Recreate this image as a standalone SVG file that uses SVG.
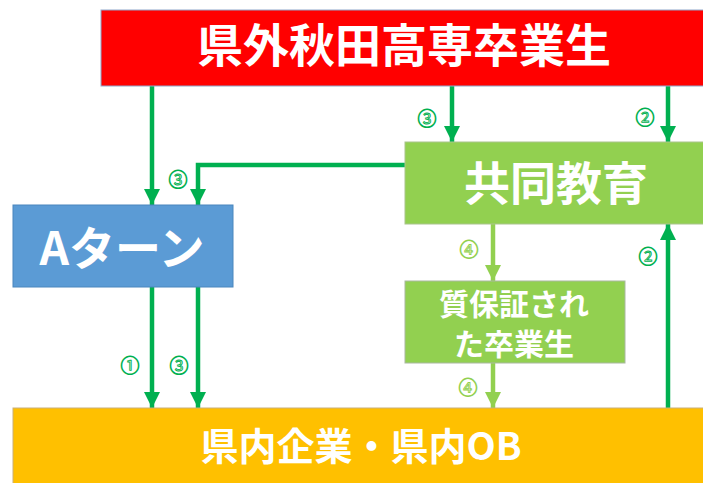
<svg xmlns="http://www.w3.org/2000/svg" width="703" height="483" viewBox="0 0 703 483">
<defs>
<style>
.box-text{font-family:"Noto Sans CJK JP","Noto Sans",sans-serif;font-weight:bold;fill:#ffffff;text-anchor:middle;dominant-baseline:central}
.lbl{font-family:"Noto Sans CJK JP","Noto Sans",sans-serif;font-size:19px;fill:#ffffff;stroke-width:0.9;text-anchor:middle;dominant-baseline:central}
.dk{stroke:#00b050}
.lt{stroke:#92d050}
.conn{fill:none;stroke-width:4.5}
</style>
<marker id="ahd" markerUnits="userSpaceOnUse" markerWidth="18" markerHeight="16" refX="16" refY="8" orient="auto">
<path d="M0,0 L16,8 L0,16 Z" fill="#00b050"/>
</marker>
<marker id="ahl" markerUnits="userSpaceOnUse" markerWidth="18" markerHeight="16" refX="16" refY="8" orient="auto">
<path d="M0,0 L16,8 L0,16 Z" fill="#92d050"/>
</marker>
</defs>
<rect width="703" height="483" fill="#ffffff"/>
<g id="connectors">
<path class="conn dk" d="M152,86 V205" marker-end="url(#ahd)"/>
<path class="conn dk" d="M405,165 H198 V205" marker-end="url(#ahd)"/>
<path class="conn dk" d="M452,86 V142" marker-end="url(#ahd)"/>
<path class="conn dk" d="M668,86 V142" marker-end="url(#ahd)"/>
<path class="conn dk" d="M152,287 V408" marker-end="url(#ahd)"/>
<path class="conn dk" d="M198,287 V408" marker-end="url(#ahd)"/>
<path class="conn lt" d="M493,224 V281" marker-end="url(#ahl)"/>
<path class="conn lt" d="M493,363 V408" marker-end="url(#ahl)"/>
<path class="conn dk" d="M668,408 V224" marker-end="url(#ahd)"/>
<text class="lbl dk" x="427" y="117">③</text>
<text class="lbl dk" x="645" y="116">②</text>
<text class="lbl dk" x="178" y="178">③</text>
<text class="lbl lt" x="469" y="248">④</text>
<text class="lbl dk" x="648" y="255">②</text>
<text class="lbl dk" x="130" y="364">①</text>
<text class="lbl dk" x="179" y="364">③</text>
<text class="lbl lt" x="468" y="386">④</text>
</g>
<g id="node-top">
<rect x="101" y="10" width="610" height="76" fill="#ff0000" stroke="#8fa8cc" stroke-width="1"/>
<text class="box-text" x="404" y="42" font-size="46">県外秋田高専卒業生</text>
</g>
<g id="node-kyodo">
<rect x="405" y="142" width="306" height="82" fill="#92d050" stroke="#a9c48c" stroke-width="1"/>
<text class="box-text" x="556" y="180" font-size="46">共同教育</text>
</g>
<g id="node-aturn">
<rect x="13" y="205" width="220" height="82" fill="#5b9bd5" stroke="#4a86bd" stroke-width="1"/>
<text class="box-text" x="122" y="245" font-size="46">Aターン</text>
</g>
<g id="node-grad">
<rect x="405" y="281" width="220" height="82" fill="#92d050" stroke="#a9b8a0" stroke-width="1"/>
<text class="box-text" x="514" y="302" font-size="30">質保証され</text>
<text class="box-text" x="514" y="342" font-size="30">た卒業生</text>
</g>
<g id="node-local">
<rect x="13" y="408" width="698" height="80" fill="#ffc000" stroke="#c9b07a" stroke-width="1"/>
<text class="box-text" x="361" y="443" font-size="38">県内企業・県内OB</text>
</g>
</svg>
